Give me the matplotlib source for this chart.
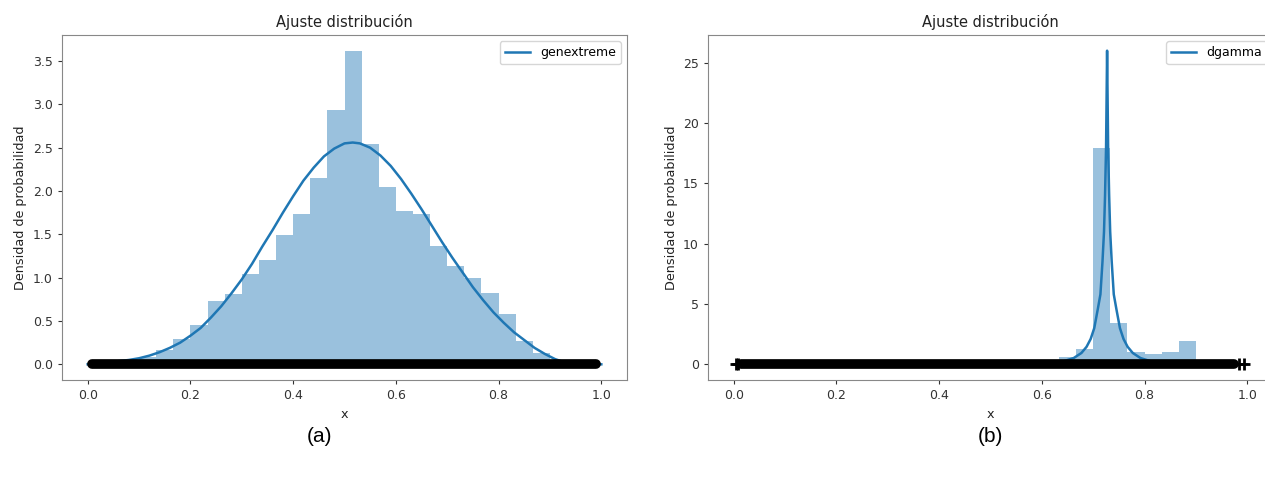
import numpy as np
import matplotlib
matplotlib.use("Agg")
import matplotlib.pyplot as plt

# histogram (density), 30 bins over [0, 1]
bin_lo, bin_hi, n_bins = 0.0, 1.0, 30
hist_a = [0.01, 0.02, 0.04, 0.09, 0.16, 0.29, 0.45, 0.73, 0.81, 1.04,
          1.20, 1.49, 1.74, 2.15, 2.93, 3.62, 2.54, 2.05, 1.77, 1.73,
          1.37, 1.13, 1.00, 0.82, 0.58, 0.27, 0.13, 0.05, 0.02, 0.01]
hist_b = [0.08, 0.08, 0.08, 0.08, 0.08, 0.08, 0.08, 0.08, 0.08, 0.08,
          0.08, 0.08, 0.08, 0.08, 0.08, 0.08, 0.08, 0.08, 0.25, 0.60,
          1.30, 17.9, 3.45, 1.02, 0.83, 1.05, 1.90, 0.10, 0.10, 0.10]

# fitted pdf curves
fit_a_x = [0.00, 0.05, 0.08, 0.10, 0.12, 0.14, 0.16, 0.18, 0.20, 0.22,
           0.24, 0.26, 0.28, 0.30, 0.32, 0.34, 0.36, 0.38, 0.40, 0.42,
           0.44, 0.46, 0.48, 0.50, 0.516, 0.53, 0.55, 0.57, 0.59, 0.61,
           0.63, 0.65, 0.67, 0.69, 0.71, 0.73, 0.75, 0.77, 0.79, 0.81,
           0.83, 0.85, 0.87, 0.89, 0.91, 0.93, 0.945, 1.00]
fit_a_y = [0.00, 0.03, 0.05, 0.07, 0.10, 0.14, 0.19, 0.25, 0.33, 0.42,
           0.54, 0.67, 0.82, 0.98, 1.16, 1.36, 1.55, 1.75, 1.94, 2.12,
           2.27, 2.40, 2.49, 2.55, 2.56, 2.55, 2.50, 2.41, 2.29, 2.14,
           1.97, 1.79, 1.60, 1.41, 1.23, 1.06, 0.89, 0.74, 0.60, 0.48,
           0.37, 0.28, 0.19, 0.12, 0.06, 0.02, 0.00, 0.00]

fit_b_x = [0.00, 0.50, 0.587, 0.617, 0.642, 0.662, 0.677, 0.687, 0.695,
           0.702, 0.709, 0.714, 0.718, 0.721, 0.723, 0.725, 0.726, 0.727,
           0.728, 0.729, 0.731, 0.733, 0.736, 0.740, 0.745, 0.752, 0.759,
           0.767, 0.777, 0.792, 0.812, 0.837, 0.867, 0.95, 1.00]
fit_b_y = [0.00, 0.00, 0.03, 0.10, 0.25, 0.52, 0.94, 1.45, 2.10,
           3.00, 4.60, 5.80, 8.50, 11.0, 14.0, 18.0, 22.0, 26.0,
           22.0, 18.0, 14.0, 11.0, 8.50, 5.80, 4.60, 3.00, 2.10,
           1.45, 0.94, 0.52, 0.25, 0.10, 0.03, 0.00, 0.00]

# observed sample spread along y = 0
rug_a = [0.008, 0.99]
rug_b = [0.014, 0.974]
rug_b_extra = [0.004, 0.009, 0.984, 0.993]

labels = ["genextreme", "dgamma"]
captions = ["(a)", "(b)"]

plt.rcParams['font.family'] = ['DejaVu Sans']
fig = plt.figure(figsize=(12.65, 4.78), dpi=100)
ax_a = fig.add_axes([62 / 1265, 98 / 478, 565 / 1265, 345 / 478])
ax_b = fig.add_axes([708 / 1265, 98 / 478, 565 / 1265, 345 / 478])

edges = np.linspace(bin_lo, bin_hi, n_bins + 1)

panels = [(ax_a, hist_a, fit_a_x, fit_a_y, rug_a, []),
          (ax_b, hist_b, fit_b_x, fit_b_y, rug_b, rug_b_extra)]

for i, (ax, hist, fx, fy, rug, extra) in enumerate(panels):
    ax.bar(edges[:-1], hist, width=np.diff(edges), align='edge',
           color='C0', alpha=0.45, linewidth=0)
    ax.plot(fx, fy, color='C0', lw=1.8, label=labels[i])
    ax.plot(rug, [0, 0], color='k', lw=7, solid_capstyle='round')
    if extra:
        ax.plot(extra, [0] * len(extra), 'k+', ms=8, mew=2)
    ax.set_xlim(-0.05, 1.05)
    top = max(max(hist), max(fy))
    ax.set_ylim(-0.05 * top, 1.05 * top)
    ax.set_title("Ajuste distribución", fontsize=10.5, color='#222')
    ax.set_xlabel("x", fontsize=9.2, color='#222')
    ax.set_ylabel("Densidad de probabilidad", fontsize=9.2, color='#222')
    ax.tick_params(labelsize=9, colors='#333', length=3)
    for s in ax.spines.values():
        s.set_color('#888')
    ax.legend(loc='upper right', fontsize=9)

fig.text(320 / 1265, 1 - 437 / 478, captions[0], fontsize=15,
         family='Liberation Sans', ha='center', va='center')
fig.text(990 / 1265, 1 - 437 / 478, captions[1], fontsize=15,
         family='Liberation Sans', ha='center', va='center')

fig.savefig("out.png", dpi=100)
